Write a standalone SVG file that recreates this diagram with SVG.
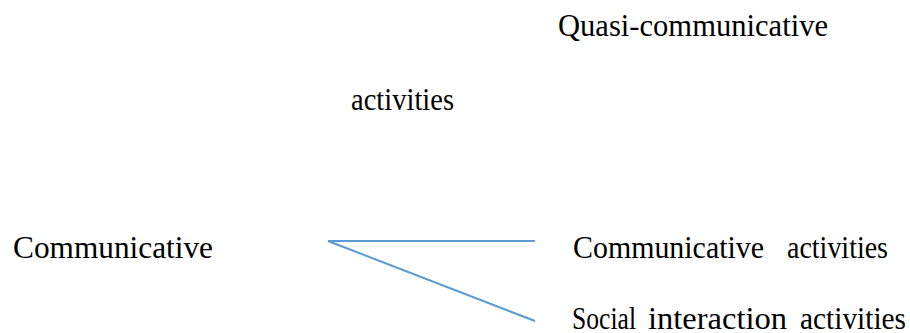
<svg xmlns="http://www.w3.org/2000/svg" width="910" height="333" viewBox="0 0 910 333">
<style>
text{font-family:"Liberation Serif","Times New Roman",serif;font-size:32px;fill:#000}
.c{stroke:#5B9BD5;stroke-width:2;fill:none}
</style>
<rect width="910" height="333" fill="#fff"/>
<g id="quasi"><text x="558" y="36" textLength="270" lengthAdjust="spacingAndGlyphs">Quasi-communicative</text></g>
<g id="quasi-activities"><text x="351" y="110" textLength="103" lengthAdjust="spacingAndGlyphs">activities</text></g>
<g id="communicative"><text x="13" y="258" textLength="200" lengthAdjust="spacingAndGlyphs">Communicative</text></g>
<g id="communicative-activities">
<text x="573" y="258" textLength="191" lengthAdjust="spacingAndGlyphs">Communicative</text>
<text x="787" y="258" textLength="101" lengthAdjust="spacingAndGlyphs">activities</text>
</g>
<g id="social-activities">
<text x="572" y="329" textLength="64" lengthAdjust="spacingAndGlyphs">Social</text>
<text x="648" y="329" textLength="139" lengthAdjust="spacingAndGlyphs">interaction</text>
<text x="800" y="329" textLength="106" lengthAdjust="spacingAndGlyphs">activities</text>
</g>
<g id="connectors">
<line class="c" x1="328" y1="241" x2="535" y2="241"/>
<line class="c" x1="328" y1="241" x2="535" y2="321"/>
</g>
</svg>
